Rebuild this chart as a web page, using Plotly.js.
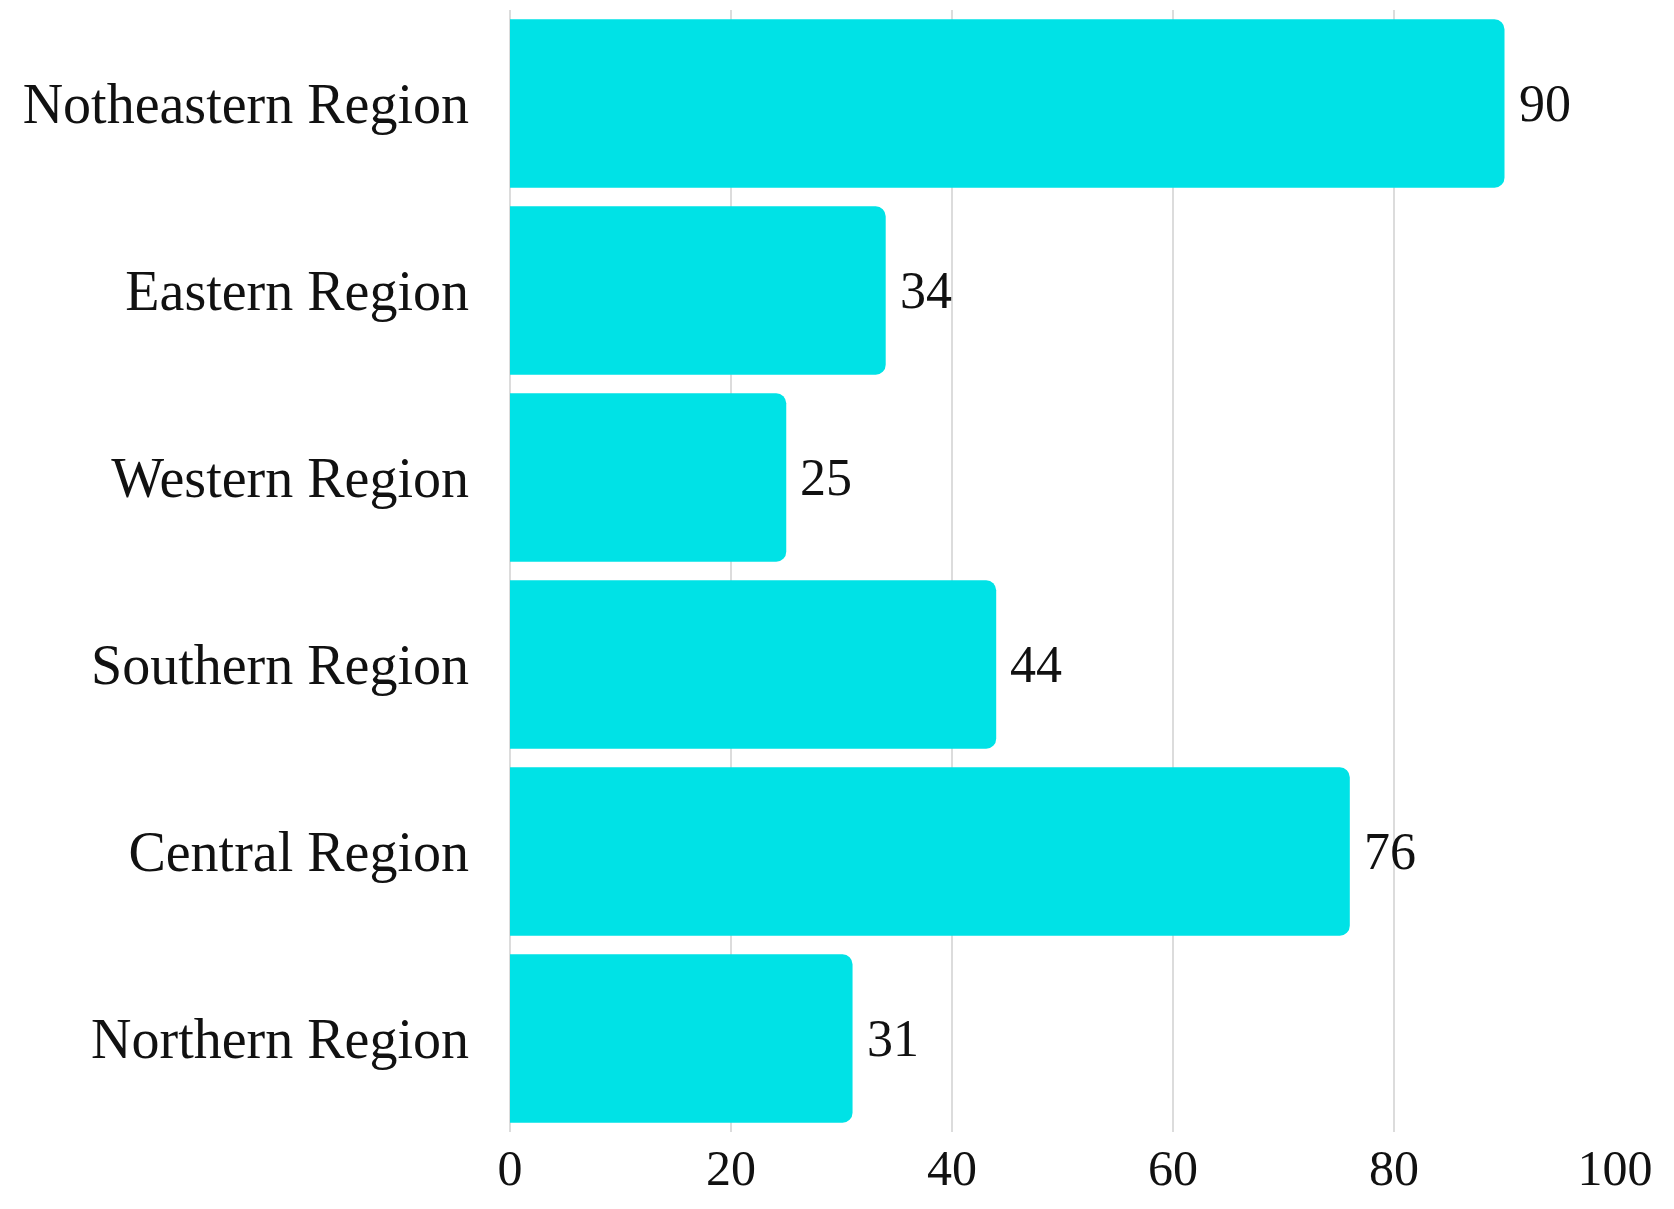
<!DOCTYPE html>
<html>
<head>
<meta charset="utf-8">
<script src="https://cdn.plot.ly/plotly-3.0.1.min.js"></script>
<style>
  html, body { margin: 0; padding: 0; background: #fff; }
  #chart { width: 1674px; height: 1209px; }
</style>
</head>
<body>
<div id="chart"></div>
<script>
// 数据
const regions = ['Notheastern Region', 'Eastern Region', 'Western Region',
                 'Southern Region', 'Central Region', 'Northern Region'];
const values = [90, 34, 25, 44, 76, 31];
const tickVals = [0, 20, 40, 60, 80, 100];

const barColor = '#00e2e6';
const fontFamily = '"Liberation Serif", "DejaVu Serif", serif';

// 数值标签
const labels = regions.map((r, i) => ({
    x: values[i],
    y: r,
    text: String(values[i]),
    xanchor: 'left',
    yanchor: 'middle',
    xshift: 12,
    showarrow: false,
    font: { family: fontFamily, size: 52, color: '#111' }
}));

const trace = {
    type: 'bar',
    orientation: 'h',
    x: values,
    y: regions,
    marker: { color: barColor },
    hoverinfo: 'none'
};

const layout = {
    width: 1674,
    height: 1209,
    margin: { l: 510, r: 59, t: 10, b: 77 },
    paper_bgcolor: '#fff',
    plot_bgcolor: '#fff',
    bargap: 0.1,
    barcornerradius: 10,
    showlegend: false,
    font: { family: fontFamily, size: 52, color: '#111' },
    xaxis: {
        range: [0, 100],
        tickvals: tickVals,
        showgrid: true,
        gridcolor: '#dcdcdc',
        gridwidth: 2,
        zeroline: true,
        zerolinecolor: '#dcdcdc',
        zerolinewidth: 2,
        showline: false,
        ticks: '',
        ticklabelstandoff: 2,
        tickfont: { family: fontFamily, size: 50, color: '#111' }
    },
    yaxis: {
        autorange: 'reversed',
        showgrid: false,
        zeroline: false,
        showline: false,
        ticks: '',
        ticklabelstandoff: 40,
        tickfont: { family: fontFamily, size: 56, color: '#111' }
    },
    annotations: labels
};

Plotly.newPlot('chart', [trace], layout, { staticPlot: true });
</script>
</body>
</html>
